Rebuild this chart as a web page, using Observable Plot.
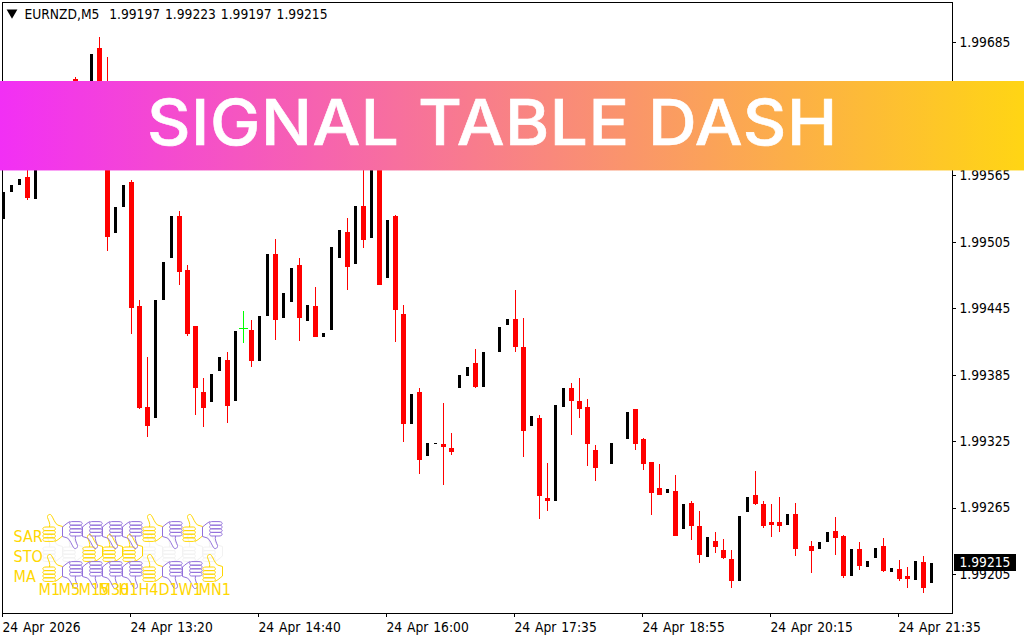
<!DOCTYPE html>
<html>
<head>
<meta charset="utf-8">
<script src="https://cdn.jsdelivr.net/npm/d3@7"></script>
<script src="https://cdn.jsdelivr.net/npm/@observablehq/plot@0.6"></script>
<style>
html,body{margin:0;padding:0;background:#fff;}
#wrap{position:relative;width:1024px;height:640px;overflow:hidden;font-family:"DejaVu Sans Condensed","DejaVu Sans",sans-serif;font-stretch:condensed;}
#wrap svg{display:block;}
#table{position:absolute;left:0;top:500px;}
#banner{position:absolute;left:0;top:81px;width:1024px;height:89px;background:linear-gradient(90deg,#F22FF5 0%,#FFD514 100%);}
#banner:after{content:"";position:absolute;left:0;top:89px;width:100%;height:1px;background:linear-gradient(90deg,#F22FF5 0%,#FFD514 100%);opacity:.45;}
#banner span{position:absolute;left:147px;top:0;line-height:82px;color:#fff;font-family:Inter,sans-serif;font-stretch:normal;font-weight:500;font-size:63px;white-space:nowrap;letter-spacing:.5px;-webkit-text-stroke:.6px #fff;transform:scaleX(1.07);transform-origin:left center;}
#price{position:absolute;left:954px;width:62px;height:17px;background:#000;color:#fff;font-size:13.7px;line-height:17px;text-align:center;}
</style>
</head>
<body>
<div id="wrap"></div>
<script>
// Quote header
const symbol = "EURNZD,M5";
const priceBase = 1.99; // all series below are points above 1.99000
const opens = [526,550,557,564,544,588,605,590,625,652,633,642,680,642,513,537,559,447,356,346,453,491,529,480,429,370,361,389,399,362,427,426,398,438,494,437,451,484,434,447,419,426,491,514,485,538,509,606,473,529,440,341,370,312,323,323,319,373,384,396,374,null,406,430,436,410,339,346,274,271,356,373,362,356,317,null,305,null,327,354,327,307,283,279,280,246,270,249,221,235,227,219,199,261,277,269,252,252,250,260,null,231,228,234,244,240,204,228,212,220,231,207,210,204,200,216,197];
const highs = [550,557,562,580,588,605,605,625,640,654,640,675,690,672,537,557,561,453,401,453,487,529,533,484,429,382,386,401,406,425,443,435,438,494,508,459,482,491,448,465,423,501,516,527,538,590,588,606,525,530,448,368,373,324,324,360,333,385,392,409,406,null,428,436,462,437,348,349,306,358,373,378,382,363,322,null,324,null,352,354,328,307,305,282,295,269,271,262,239,243,237,227,258,275,298,271,269,275,260,270,null,235,234,243,257,241,228,234,217,229,238,211,218,212,217,222,223];
const lows = [526,550,557,543,544,588,590,590,625,628,633,642,640,497,513,537,422,354,329,346,453,491,466,420,349,338,361,389,342,362,414,392,398,438,417,437,451,416,434,419,419,426,491,462,485,500,509,466,473,415,325,341,296,312,323,286,313,373,384,373,374,null,406,430,406,311,339,255,262,271,356,331,346,303,289,null,305,null,327,317,299,259,277,279,240,246,236,215,221,224,219,193,199,261,268,247,239,243,250,222,null,206,228,234,223,202,204,209,212,220,207,207,199,193,200,188,197];
const closes = [550,557,562,545,588,605,590,625,640,633,640,675,647,510,537,557,446,355,339,453,487,529,478,422,373,355,386,401,357,425,427,398,438,494,435,459,482,437,448,419,423,501,516,483,538,507,588,466,525,444,341,368,308,324,324,320,316,385,392,374,406,null,428,436,410,335,348,276,271,358,373,362,354,323,301,null,324,null,352,323,305,279,277,282,240,269,249,223,239,230,220,199,258,275,269,249,250,249,260,228,null,226,234,243,238,204,228,213,217,229,208,211,201,201,217,193,215];

// Axes
const timeTickBars = [0,16,32,48,64,80,96,112];
const timeTickLabels = ["24 Apr 2026","24 Apr 13:20","24 Apr 14:40","24 Apr 16:00","24 Apr 17:35","24 Apr 18:55","24 Apr 20:15","24 Apr 21:35"];
const priceTicks = [1.99205,1.99265,1.99325,1.99385,1.99445,1.99505,1.99565,1.99625,1.99685];

// Signal table
const timeframes = ["M1","M5","M15","M30","H1","H4","D1","W1","MN1"];
const indicators = ["SAR","STO","MA"];
const sarSignals = ["up","down","down","down","down","up","down","up","down"];
const stoSignals = ["none","none","up","up","up","none","none","none","none"];
const maSignals  = ["up","down","down","down","down","up","down","down","up"];

const UP = "#FFD700", DOWN = "#9370DB", RED = "#FF0000", LIME = "#00FF00";
const FONT = '"DejaVu Sans Condensed","DejaVu Sans",sans-serif';

const candles = opens.map((o,i)=>({i,open:priceBase+o/1e5,high:priceBase+highs[i]/1e5,low:priceBase+lows[i]/1e5,close:priceBase+closes[i]/1e5,valid:o!==null}))
  .filter(d=>d.valid);
const ups = candles.filter(d=>d.close>d.open);
const downs = candles.filter(d=>d.close<d.open);
const flats = candles.filter(d=>d.close===d.open);
const last = candles[candles.length-1];
const f5 = d3.format(".5f");
const header = `${symbol}\u00A0\u00A0${f5(last.open)} ${f5(last.high)} ${f5(last.low)} ${f5(last.close)}`;

const chart = Plot.plot({
  width:1024,height:640,
  marginLeft:2,marginRight:72,marginTop:2,marginBottom:27,
  style:{fontFamily:FONT,fontStretch:"condensed",fontSize:"13.7px",wordSpacing:"1px",background:"#fff",color:"#000"},
  x:{type:"linear",domain:[-0.125,118.625]},
  y:{type:"linear",domain:[1.991698,1.997214]},
  marks:[
    Plot.ruleX(downs,{x:"i",y1:"low",y2:"high",dy:0.5,stroke:RED,strokeWidth:1,shapeRendering:"crispEdges"}),
    Plot.ruleX(downs,{x:"i",y1:"open",y2:"close",dy:0.5,stroke:RED,strokeWidth:5,shapeRendering:"crispEdges"}),
    Plot.ruleX(ups,{x:"i",y1:"open",y2:"close",dy:0.5,stroke:"#000",strokeWidth:3,shapeRendering:"crispEdges"}),
    Plot.ruleX(flats,{x:"i",y1:"low",y2:"high",dy:0.5,stroke:LIME,strokeWidth:1,shapeRendering:"crispEdges"}),
    Plot.dot(flats,{x:"i",y:"close",symbol:"plus",r:3,stroke:LIME,strokeWidth:1,shapeRendering:"crispEdges"}),
    Plot.frame({stroke:"#000",strokeWidth:1,shapeRendering:"crispEdges"}),
    Plot.axisX({anchor:"bottom",ticks:timeTickBars,tickFormat:d=>timeTickLabels[timeTickBars.indexOf(d)],tickSize:4,tickPadding:5,textAnchor:"start",dx:-1,label:null,fontSize:13.7,stroke:"#000",shapeRendering:"crispEdges"}),
    Plot.axisY({anchor:"right",ticks:priceTicks,tickFormat:f5,tickSize:3,tickPadding:4,label:null,fontSize:13.7,stroke:"#000",shapeRendering:"crispEdges"}),
    Plot.text([header],{text:d=>d,frameAnchor:"top-left",dx:22,dy:7,fontSize:13.7,fill:"#000",textAnchor:"start",lineAnchor:"top"}),
    Plot.dot([header],{frameAnchor:"top-left",dx:9.5,dy:10,symbol:"triangle",rotate:180,r:4,fill:"#000"})
  ]
});

// Thumb glyph as a custom symbol for Plot.dot (r = 10 gives a 20x28 glyph)
const thumb = dir => ({draw(c,size){
  const s = Math.sqrt(size/Math.PI)/10*dir;
  const M=(x,y)=>c.moveTo(x*s,y*s), L=(x,y)=>c.lineTo(x*s,y*s),
        C=(a,b,d,e,f,g)=>c.bezierCurveTo(a*s,b*s,d*s,e*s,f*s,g*s);
  M(10,-2); L(5,-3.5); C(2,-6,1,-10,-1,-13); C(-2,-15,-5.5,-14,-5,-11); C(-4,-8,-2,-5,-3,-1.5);
  for(let k=0;k<4;k++){const y=-1.5+k*3.6;
    M(-6.5,y); L(1,y); C(3.5,y,3.5,y+3.6,1,y+3.6); L(-6.5,y+3.6); C(-10.8,y+3.6,-10.8,y,-6.5,y);}
  M(2.5,12.9); C(5,12,8,9,10,7.5); L(10,-2);
}});

const cells = (row,vals)=>vals.map((v,k)=>({tf:timeframes[k],row,v}));
const signals = [...cells("SAR",sarSignals),...cells("STO",stoSignals),...cells("MA",maSignals)];

const table = Plot.plot({
  width:240,height:110,margin:0,
  style:{fontFamily:FONT,fontStretch:"condensed",fontSize:"16px",background:"transparent",overflow:"visible"},
  x:{type:"point",domain:timeframes,range:[52,212],padding:0,axis:null},
  y:{type:"point",domain:indicators,range:[28,68],padding:0,axis:null},
  marks:[
    Plot.dot(signals.filter(d=>d.v==="none"),{x:"tf",y:"row",symbol:thumb(1),r:10,stroke:"#f2f2f2",strokeWidth:1}),
    Plot.dot(signals.filter(d=>d.v==="up"),{x:"tf",y:"row",symbol:thumb(1),r:10,stroke:UP,strokeWidth:1}),
    Plot.dot(signals.filter(d=>d.v==="down"),{x:"tf",y:"row",dy:6,symbol:thumb(-1),r:10,stroke:DOWN,strokeWidth:1}),
    Plot.text(indicators,{y:d=>d,text:d=>d,frameAnchor:"left",dx:13,dy:8,textAnchor:"start",fill:UP,fontSize:16}),
    Plot.text(timeframes,{x:d=>d,text:d=>d,frameAnchor:"bottom",dx:-14,dy:-16,textAnchor:"start",fill:UP,fontSize:16})
  ]
});

const wrap = document.getElementById("wrap");
wrap.appendChild(chart);
const t = document.createElement("div"); t.id="table"; t.appendChild(table); wrap.appendChild(t);
const banner = document.createElement("div"); banner.id="banner";
const title = document.createElement("span"); title.textContent="SIGNAL TABLE DASH"; banner.appendChild(title); wrap.appendChild(banner);
const price = document.createElement("div"); price.id="price"; price.textContent=f5(last.close);
price.style.top = (chart.scale("y").apply(last.close)-8.5)+"px"; wrap.appendChild(price);
</script>
</body>
</html>
